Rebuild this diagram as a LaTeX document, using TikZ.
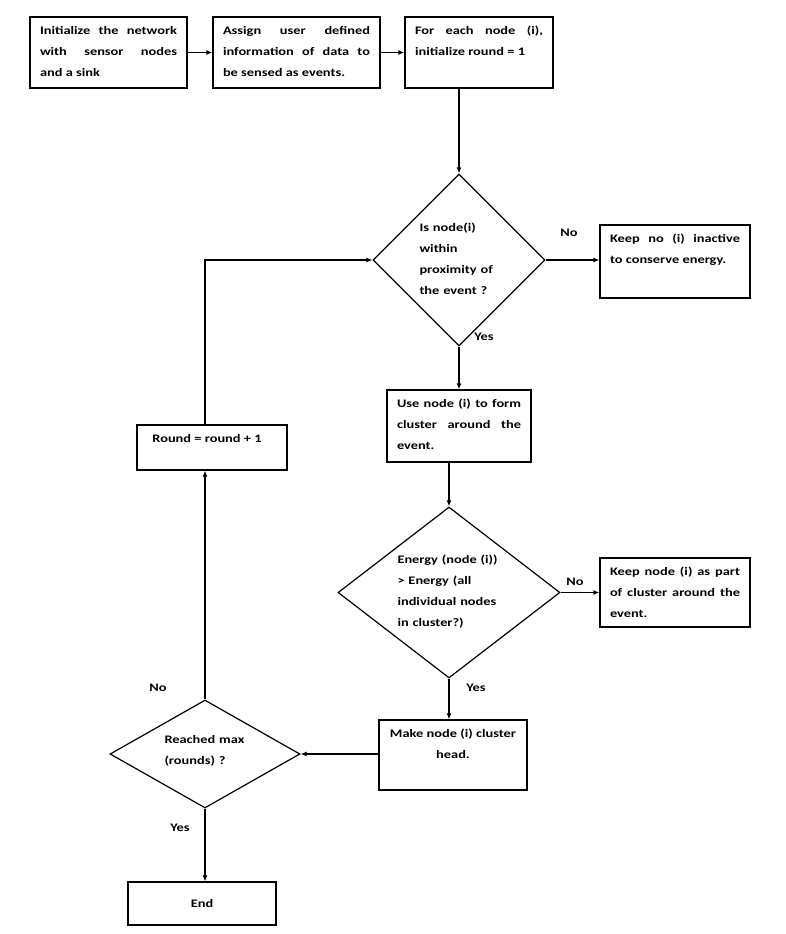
\documentclass[tikz,border=0pt]{standalone}
\usepackage{fontspec}
\setmainfont[FakeStretch=1.25]{Carlito}
\usetikzlibrary{shapes.geometric,arrows.meta}
\newcommand\txtfont{\bfseries\fontsize{11.5}{21}\selectfont}
\newcommand\btxt[3]{\parbox[c][#1][t]{#2}{\hyphenpenalty=10000 #3}}
\tikzset{
  box/.style={draw, line width=1.2pt, inner xsep=10pt, inner ysep=9pt, font=\txtfont},
  dia/.style={draw, diamond, line width=1.2pt, inner sep=0pt},
  dtext/.style={align=left, font=\txtfont, inner sep=0pt},
  lab/.style={font=\txtfont, inner sep=0pt},
  arr/.style={line width=1.2pt, -{Latex[length=6pt,width=5pt]}},
}
\begin{document}
\begin{tikzpicture}[x=1pt,y=-1pt]
\useasboundingbox (0,0) rectangle (785,934);
% boxes
\node[box] (b1) at (108.5,52.5) {\btxt{53pt}{137pt}{Initialize the network\linebreak with sensor nodes\linebreak and a sink}};
\node[box] (b2) at (296.5,52.5) {\btxt{53pt}{147pt}{Assign user defined\linebreak information of data to\linebreak be sensed as events.}};
\node[box] (b3) at (479,52.5) {\btxt{53pt}{128pt}{For each node (i),\linebreak initialize round = 1}};
\node[dia, minimum width=172pt, minimum height=172pt] (d1) at (459,260) {};
\node[dtext, text width=85pt] (d1t) at (462,259) {Is node(i)\\ within\\ proximity of\\ the event ?};
\node[box] (k1) at (675,261.5) {\btxt{55pt}{130pt}{Keep no (i) inactive\linebreak to conserve energy.}};
\node[box] (use) at (459,426) {\btxt{54pt}{124pt}{Use node (i) to form\linebreak cluster around the\linebreak event.}};
\node[dia, minimum width=222pt, minimum height=171pt] (d2) at (449,592.5) {};
\node[dtext, text width=105pt] (d2t) at (450,592) {Energy (node (i))\\ > Energy (all\\ individual nodes\\ in cluster?)};
\node[box] (k2) at (675,592.5) {\btxt{51pt}{130pt}{Keep node (i) as part\linebreak of cluster around the\linebreak event.}};
\node[box] (mk) at (453,755) {\btxt{52pt}{128pt}{\centering Make node (i) cluster\\ head.\par}};
\node[dia, minimum width=190pt, minimum height=108pt] (d3) at (205,754) {};
\node[dtext, text width=85pt] (d3t) at (207,751) {Reached max\\ (rounds) ?};
\node[box] (rd) at (212,447.5) {\btxt{27pt}{130pt}{\centering Round = round + 1\hspace*{10pt}\par}};
\node[box, inner sep=0pt, minimum width=148pt, minimum height=43pt] (end) at (202,903.5) {End};
% labels
\node[lab] (l1) at (569,233) {No};
\node[lab] (l2) at (484,337) {Yes};
\node[lab] (l3) at (575,582) {No};
\node[lab] (l4) at (476,688) {Yes};
\node[lab] (l5) at (158,688) {No};
\node[lab] (l6) at (180,828) {Yes};
% connectors
\draw[arr] (b1.east) -- (b2.west);
\draw[arr] (b2.east) -- (b3.west);
\draw[arr] (b3.south -| d1.north) -- (d1.north);
\draw[arr] (d1.east) -- (d1.east -| k1.west);
\draw[arr] (d1.south) -- (d1.south |- use.north);
\draw[arr] (d2.north |- use.south) -- (d2.north);
\draw[arr] (d2.east) -- (d2.east -| k2.west);
\draw[arr] (d2.south) -- (d2.south |- mk.north);
\draw[arr] (mk.west |- d3.east) -- (d3.east);
\draw[arr] (d3.north) -- (d3.north |- rd.south);
\draw[arr] (d3.north |- rd.north) |- (d1.west);
\draw[arr] (d3.south) -- (d3.south |- end.north);
\end{tikzpicture}
\end{document}
